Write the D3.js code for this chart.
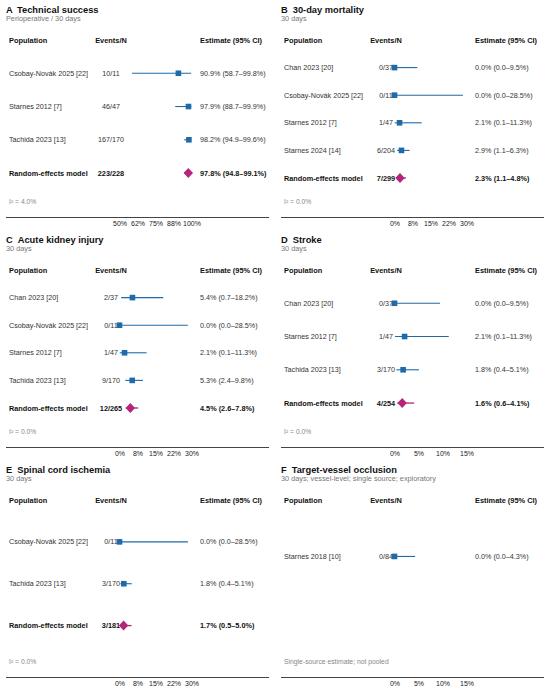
<!DOCTYPE html>
<html>
<head>
<meta charset="utf-8">
<script src="https://cdn.jsdelivr.net/npm/d3@7"></script>
<style>
  body { margin: 0; background: #fff; }
  svg { display: block; font-family: "Liberation Sans", Arial, sans-serif; }
</style>
</head>
<body>
<svg id="chart"></svg>
<script>

// DATA
const panelLetters = ["A", "B", "C", "D", "E", "F"];
const panelTitles = ["Technical success", "30-day mortality", "Acute kidney injury",
  "Stroke", "Spinal cord ischemia", "Target-vessel occlusion"];
const panelSubtitles = ["Perioperative / 30 days", "30 days", "30 days", "30 days", "30 days",
  "30 days; vessel-level; single source; exploratory"];
const panelDomains = [[50, 100], [0, 30], [0, 30], [0, 15], [0, 30], [0, 15]];
const panelTicks = [
  [50, 62.5, 75, 87.5, 100],
  [0, 7.5, 15, 22.5, 30],
  [0, 7.5, 15, 22.5, 30],
  [0, 5, 10, 15],
  [0, 7.5, 15, 22.5, 30],
  [0, 5, 10, 15]
];
const tickLabels = [
  ["50%", "62%", "75%", "88%", "100%"],
  ["0%", "8%", "15%", "22%", "30%"],
  ["0%", "8%", "15%", "22%", "30%"],
  ["0%", "5%", "10%", "15%"],
  ["0%", "8%", "15%", "22%", "30%"],
  ["0%", "5%", "10%", "15%"]
];

// studies per panel: name, events, estimate, lower, upper (%)
const studiesA = [
  { name: "Csobay-Novák 2025 [22]", events: "10/11", est: 90.9, lo: 58.7, hi: 99.8 },
  { name: "Starnes 2012 [7]", events: "46/47", est: 97.9, lo: 88.7, hi: 99.9 },
  { name: "Tachida 2023 [13]", events: "167/170", est: 98.2, lo: 94.9, hi: 99.6 }
];
const studiesB = [
  { name: "Chan 2023 [20]", events: "0/37", est: 0.0, lo: 0.0, hi: 9.5 },
  { name: "Csobay-Novák 2025 [22]", events: "0/11", est: 0.0, lo: 0.0, hi: 28.5 },
  { name: "Starnes 2012 [7]", events: "1/47", est: 2.1, lo: 0.1, hi: 11.3 },
  { name: "Starnes 2024 [14]", events: "6/204", est: 2.9, lo: 1.1, hi: 6.3 }
];
const studiesC = [
  { name: "Chan 2023 [20]", events: "2/37", est: 5.4, lo: 0.7, hi: 18.2 },
  { name: "Csobay-Novák 2025 [22]", events: "0/11", est: 0.0, lo: 0.0, hi: 28.5 },
  { name: "Starnes 2012 [7]", events: "1/47", est: 2.1, lo: 0.1, hi: 11.3 },
  { name: "Tachida 2023 [13]", events: "9/170", est: 5.3, lo: 2.4, hi: 9.8 }
];
const studiesD = [
  { name: "Chan 2023 [20]", events: "0/37", est: 0.0, lo: 0.0, hi: 9.5 },
  { name: "Starnes 2012 [7]", events: "1/47", est: 2.1, lo: 0.1, hi: 11.3 },
  { name: "Tachida 2023 [13]", events: "3/170", est: 1.8, lo: 0.4, hi: 5.1 }
];
const studiesE = [
  { name: "Csobay-Novák 2025 [22]", events: "0/11", est: 0.0, lo: 0.0, hi: 28.5 },
  { name: "Tachida 2023 [13]", events: "3/170", est: 1.8, lo: 0.4, hi: 5.1 }
];
const studiesF = [
  { name: "Starnes 2018 [10]", events: "0/84", est: 0.0, lo: 0.0, hi: 4.3 }
];
const panelStudies = [studiesA, studiesB, studiesC, studiesD, studiesE, studiesF];

// pooled random-effects rows (F is not pooled)
const pooled = [
  { events: "223/228", est: 97.8, lo: 94.8, hi: 99.1 },
  { events: "7/299", est: 2.3, lo: 1.1, hi: 4.8 },
  { events: "12/265", est: 4.5, lo: 2.6, hi: 7.8 },
  { events: "4/254", est: 1.6, lo: 0.6, hi: 4.1 },
  { events: "3/181", est: 1.7, lo: 0.5, hi: 5.0 },
  null
];
const footNotes = ["I² = 4.0%", "I² = 0.0%", "I² = 0.0%", "I² = 0.0%", "I² = 0.0%",
  "Single-source estimate; not pooled"];


// LAYOUT
const width = 550, height = 695;
const panelW = 275, panelH = 230;
const colPop = 9, colEvents = 111, colEst = 200;
const blue = "#1f6aa8", magenta = "#b5237a";

const svg = d3.select("#chart")
  .attr("width", width)
  .attr("height", height);

const fmt = v => v.toFixed(1);
const estText = d => `${fmt(d.est)}% (${fmt(d.lo)}–${fmt(d.hi)}%)`;

panelLetters.forEach((letter, i) => {
  const g = svg.append("g")
    .attr("transform", `translate(${(i % 2) * panelW}, ${Math.floor(i / 2) * panelH})`);

  const studies = panelStudies[i];
  const model = pooled[i];
  const k = studies.length;

  // + SCALES
  const x = d3.scaleLinear()
    .domain(panelDomains[i])
    .range([119.5, 191.5]);

  // rows: 0 = header, 1..k = studies, k+1 = model, then footnote
  const y = d3.scaleLinear()
    .domain([0, k + 1.87])
    .range([40, 202]);

  // title + subtitle
  const title = g.append("text")
    .attr("x", 6)
    .attr("y", 13)
    .attr("font-size", 9.3)
    .attr("font-weight", "bold")
    .attr("fill", "#111");
  title.append("tspan").text(letter);
  title.append("tspan").attr("dx", 5).text(panelTitles[i]);

  g.append("text")
    .attr("x", 6)
    .attr("y", 20.5)
    .attr("font-size", 7.3)
    .attr("fill", "#777")
    .text(panelSubtitles[i]);

  // header row
  const header = g.append("g")
    .attr("font-size", 7.4)
    .attr("font-weight", "bold")
    .attr("fill", "#111");
  header.append("text").attr("x", colPop).attr("y", y(0)).attr("dy", "0.35em").text("Population");
  header.append("text").attr("x", colEvents).attr("y", y(0)).attr("dy", "0.35em")
    .attr("text-anchor", "middle").text("Events/N");
  header.append("text").attr("x", colEst).attr("y", y(0)).attr("dy", "0.35em").text("Estimate (95% CI)");

  // study rows
  const rows = g.selectAll(".study")
    .data(studies)
    .join("g")
    .attr("class", "study")
    .attr("transform", (d, j) => `translate(0, ${y(j + 1)})`);

  rows.append("text")
    .attr("x", colPop).attr("dy", "0.35em")
    .attr("font-size", 7.2).attr("fill", "#333")
    .text(d => d.name);

  rows.append("text")
    .attr("x", colEvents).attr("dy", "0.35em")
    .attr("text-anchor", "middle")
    .attr("font-size", 7.2).attr("fill", "#333")
    .text(d => d.events);

  rows.append("text")
    .attr("x", colEst).attr("dy", "0.35em")
    .attr("font-size", 7.2).attr("fill", "#333")
    .text(estText);

  rows.append("line")
    .attr("x1", d => x(d.lo))
    .attr("x2", d => x(d.hi))
    .attr("stroke", blue)
    .attr("stroke-width", 1.1);

  rows.append("rect")
    .attr("x", d => x(d.est) - 2.8)
    .attr("y", -2.8)
    .attr("width", 5.6)
    .attr("height", 5.6)
    .attr("fill", blue);

  // pooled row
  if (model) {
    const m = g.append("g")
      .attr("transform", `translate(0, ${y(k + 1)})`);

    m.append("text")
      .attr("x", colPop).attr("dy", "0.35em")
      .attr("font-size", 7.3).attr("font-weight", "bold").attr("fill", "#111")
      .text("Random-effects model");

    m.append("text")
      .attr("x", colEvents).attr("dy", "0.35em")
      .attr("text-anchor", "middle")
      .attr("font-size", 7.3).attr("font-weight", "bold").attr("fill", "#111")
      .text(model.events);

    m.append("text")
      .attr("x", colEst).attr("dy", "0.35em")
      .attr("font-size", 7.3).attr("font-weight", "bold").attr("fill", "#111")
      .text(estText(model));

    m.append("line")
      .attr("x1", x(model.lo))
      .attr("x2", x(model.hi))
      .attr("stroke", magenta)
      .attr("stroke-width", 1.3);

    const cx = x(model.est);
    m.append("path")
      .attr("d", `M${cx - 4.7},0 L${cx},-5 L${cx + 4.7},0 L${cx},5 Z`)
      .attr("fill", magenta);
  }

  // footnote (heterogeneity or note)
  g.append("text")
    .attr("x", colPop)
    .attr("y", y(k + 1.87))
    .attr("dy", "0.35em")
    .attr("font-size", 6.8)
    .attr("fill", "#888")
    .text(footNotes[i]);

  // + AXIS
  g.append("line")
    .attr("x1", 6).attr("x2", 269)
    .attr("y1", 217.5).attr("y2", 217.5)
    .attr("stroke", "#444")
    .attr("stroke-width", 1.2);

  const axisG = g.append("g")
    .attr("transform", `translate(0, 218)`)
    .call(d3.axisBottom(x)
      .tickValues(panelTicks[i])
      .tickFormat((d, j) => tickLabels[i][j])
      .tickSize(0)
      .tickPadding(3));

  axisG.select(".domain").remove();
  axisG.selectAll("text")
    .attr("font-size", 7)
    .attr("font-family", "Liberation Sans, Arial, sans-serif")
    .attr("fill", "#222");
});
</script>
</body>
</html>
